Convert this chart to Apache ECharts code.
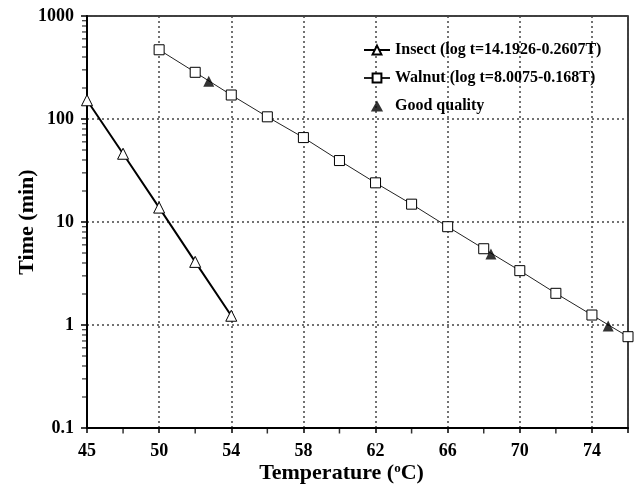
<!DOCTYPE html>
<html>
<head>
<meta charset="utf-8">
<script src="https://cdn.jsdelivr.net/npm/echarts@6/dist/echarts.min.js"></script>
<style>
html, body { margin: 0; padding: 0; background: #fff; }
#main { width: 637px; height: 484px; }
</style>
</head>
<body>
<div id="main"></div>
<script>
var insectT = [46, 48, 50, 52, 54];
var insectTime = [152, 46, 13.8, 4.1, 1.23];

var walnutT = [50, 52, 54, 56, 58, 60, 62, 64, 66, 68, 70, 72, 74, 76];
var walnutTime = [470, 284, 171, 105, 66, 39.5, 24, 14.9, 9.0, 5.5, 3.37, 2.03, 1.25, 0.77];

var goodT = [52.75, 68.4, 74.9];
var goodTime = [232, 4.9, 0.98];

// minor tick marks (log axis: 2..9 in each decade, temperature: every 2 between labels)
var yMinorTicks = [0.2, 0.3, 0.4, 0.5, 0.6, 0.7, 0.8, 0.9,
                   2, 3, 4, 5, 6, 7, 8, 9,
                   20, 30, 40, 50, 60, 70, 80, 90,
                   200, 300, 400, 500, 600, 700, 800, 900];
var xMinorTicks = [48, 52, 56, 60, 64, 68, 72];

var legendNames = ['Insect (log t=14.1926-0.2607T)', 'Walnut (log t=8.0075-0.168T)', 'Good quality'];

function zip(xs, ys) {
    return xs.map(function (x, i) { return [x, ys[i]]; });
}

var font = 'Liberation Serif';
var myChart = echarts.init(document.getElementById('main'));

var option = {
    animation: false,
    textStyle: { fontFamily: font, color: '#000' },
    grid: {
        left: 87, right: 9, top: 16, bottom: 56,
        outerBoundsMode: 'none',
        show: true, borderColor: '#000', borderWidth: 1.5
    },
    legend: {
        data: [
            { name: legendNames[0] },
            { name: legendNames[1] },
            { name: legendNames[2], icon: 'path://M5,0L10,9L0,9Z' }  // keep the triangle upright, not stretched
        ],
        orient: 'vertical',
        left: 358,
        top: 37,
        itemWidth: 26,
        itemHeight: 11,
        itemGap: 12,
        textStyle: { fontFamily: font, fontWeight: 'bold', fontSize: 16, color: '#000' }
    },
    xAxis: {
        type: 'value',
        min: 46, max: 76, interval: 4,
        name: 'Temperature ({sup|o}C)',
        nameLocation: 'middle',
        nameGap: 34,
        nameMoveOverlap: false,
        nameTextStyle: {
            fontFamily: font, fontWeight: 'bold', fontSize: 22, color: '#000',
            padding: [0, 32, 0, 0],
            rich: {
                sup: { fontFamily: font, fontWeight: 'bold', fontSize: 13, verticalAlign: 'top', color: '#000' }
            }
        },
        axisLine: { lineStyle: { color: '#000', width: 2 } },
        axisTick: { inside: false, length: 5, lineStyle: { color: '#000', width: 1.5 } },
        axisLabel: {
            margin: 14,
            fontFamily: font, fontWeight: 'bold', fontSize: 18, color: '#000',
            formatter: function (v) {
                if (v === 46) return '45';
                if (v === 76) return '';
                return String(v);
            }
        },
        splitLine: { show: true, lineStyle: { color: '#444', width: 1.5, type: [2, 3] } }
    },
    yAxis: {
        type: 'log',
        logBase: 10,
        min: 0.1, max: 1000,
        name: 'Time (min)',
        nameLocation: 'middle',
        nameGap: 49,
        nameMoveOverlap: false,
        nameTextStyle: { fontFamily: font, fontWeight: 'bold', fontSize: 22, color: '#000' },
        axisLine: { lineStyle: { color: '#000', width: 2 } },
        axisTick: { inside: false, length: 6, lineStyle: { color: '#000', width: 1.5 } },
        axisLabel: {
            margin: 13,
            fontFamily: font, fontWeight: 'bold', fontSize: 18, color: '#000',
            formatter: function (v) { return String(v); }
        },
        splitLine: { show: true, lineStyle: { color: '#444', width: 1.5, type: [2, 3] } }
    },
    series: [
        {
            name: legendNames[0],
            type: 'line',
            data: zip(insectT, insectTime),
            clip: false,
            symbol: 'triangle',
            symbolSize: 11,
            showAllSymbol: true,
            lineStyle: { color: '#000', width: 2 },
            itemStyle: { color: '#fff', borderColor: '#000', borderWidth: 1 },
            z: 3
        },
        {
            name: legendNames[1],
            type: 'line',
            data: zip(walnutT, walnutTime),
            clip: false,
            symbol: 'rect',
            symbolSize: 10,
            showAllSymbol: true,
            lineStyle: { color: '#222', width: 1 },
            itemStyle: { color: '#fff', borderColor: '#000', borderWidth: 1 },
            z: 3
        },
        {
            name: legendNames[2],
            type: 'scatter',
            data: zip(goodT, goodTime),
            clip: false,
            symbol: 'triangle',
            symbolSize: 11,
            itemStyle: { color: '#000' },
            z: 4
        },
        {
            type: 'scatter',
            silent: true,
            clip: false,
            data: yMinorTicks.map(function (v) { return [46, v]; }),
            symbol: 'rect',
            symbolSize: [4, 1.2],
            symbolOffset: [-3, 0],
            itemStyle: { color: '#000' },
            z: 5
        },
        {
            type: 'scatter',
            silent: true,
            clip: false,
            data: xMinorTicks.map(function (v) { return [v, 0.1]; }),
            symbol: 'rect',
            symbolSize: [1.5, 5],
            symbolOffset: [0, 3],
            itemStyle: { color: '#000' },
            z: 5
        }
    ]
};

myChart.setOption(option);
</script>
</body>
</html>
